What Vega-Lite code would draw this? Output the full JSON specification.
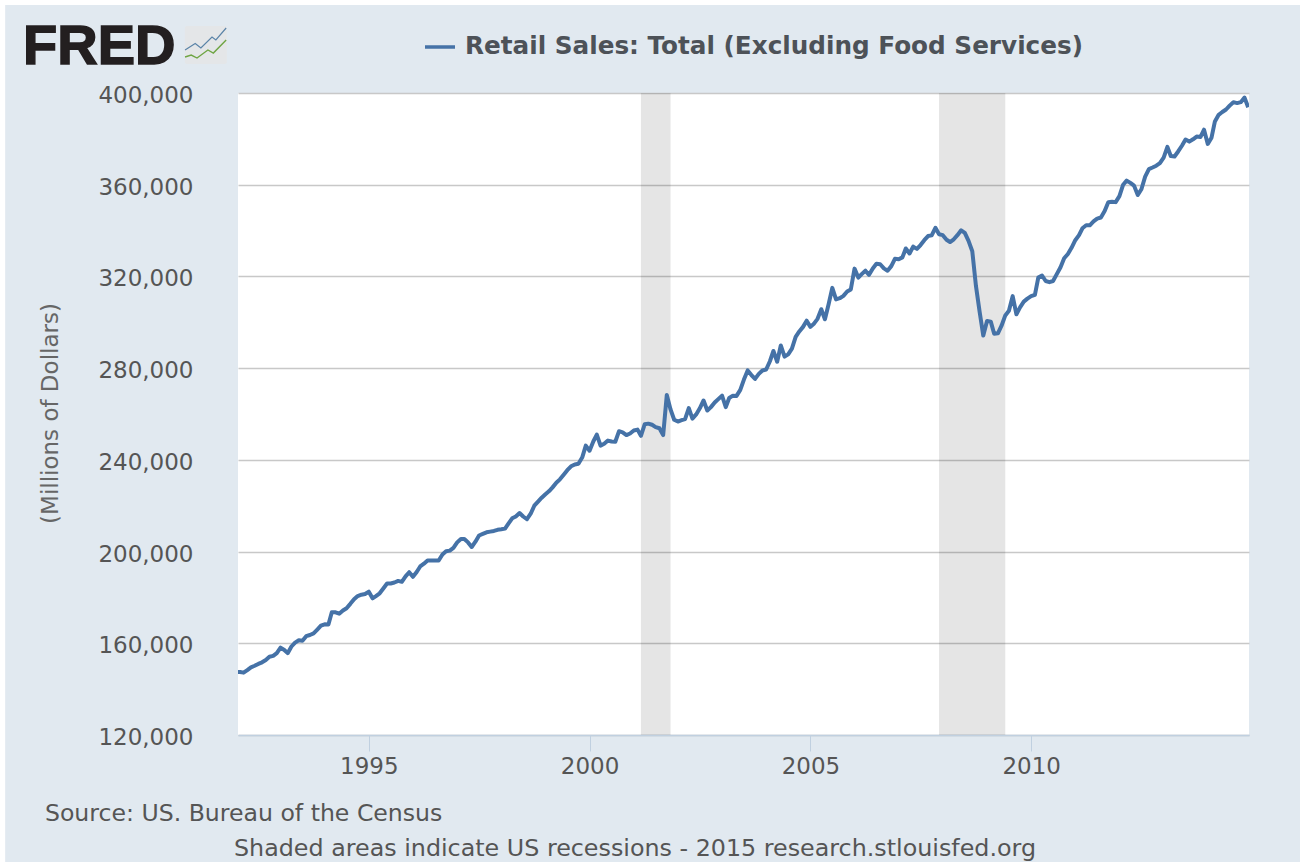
{"$schema":"https://vega.github.io/schema/vega-lite/v6.json","width":1011,"height":642,"autosize":{"type":"none"},"padding":{"left":238,"top":93,"right":51,"bottom":127},"background":"#e1e9f0","config":{"view":{"fill":"#ffffff","stroke":null},"font":"DejaVu Sans"},"resolve":{"axis":{"x":"independent","y":"independent"}},"datasets":{"retail":[{"date":"1992-01-01","value":147500},{"date":"1992-02-01","value":147500},{"date":"1992-03-01","value":147200},{"date":"1992-04-01","value":148300},{"date":"1992-05-01","value":149500},{"date":"1992-06-01","value":150200},{"date":"1992-07-01","value":151000},{"date":"1992-08-01","value":151700},{"date":"1992-09-01","value":152700},{"date":"1992-10-01","value":154100},{"date":"1992-11-01","value":154500},{"date":"1992-12-01","value":155700},{"date":"1993-01-01","value":158100},{"date":"1993-02-01","value":157100},{"date":"1993-03-01","value":155700},{"date":"1993-04-01","value":158600},{"date":"1993-05-01","value":160300},{"date":"1993-06-01","value":161300},{"date":"1993-07-01","value":161100},{"date":"1993-08-01","value":163100},{"date":"1993-09-01","value":163600},{"date":"1993-10-01","value":164300},{"date":"1993-11-01","value":166000},{"date":"1993-12-01","value":167700},{"date":"1994-01-01","value":168300},{"date":"1994-02-01","value":168200},{"date":"1994-03-01","value":173500},{"date":"1994-04-01","value":173500},{"date":"1994-05-01","value":172900},{"date":"1994-06-01","value":174300},{"date":"1994-07-01","value":175300},{"date":"1994-08-01","value":177200},{"date":"1994-09-01","value":179200},{"date":"1994-10-01","value":180600},{"date":"1994-11-01","value":181200},{"date":"1994-12-01","value":181500},{"date":"1995-01-01","value":182500},{"date":"1995-02-01","value":179600},{"date":"1995-03-01","value":180600},{"date":"1995-04-01","value":181800},{"date":"1995-05-01","value":183900},{"date":"1995-06-01","value":186100},{"date":"1995-07-01","value":186100},{"date":"1995-08-01","value":186500},{"date":"1995-09-01","value":187200},{"date":"1995-10-01","value":186800},{"date":"1995-11-01","value":189200},{"date":"1995-12-01","value":191000},{"date":"1996-01-01","value":189000},{"date":"1996-02-01","value":191100},{"date":"1996-03-01","value":193500},{"date":"1996-04-01","value":194700},{"date":"1996-05-01","value":196100},{"date":"1996-06-01","value":196100},{"date":"1996-07-01","value":196100},{"date":"1996-08-01","value":196100},{"date":"1996-09-01","value":198700},{"date":"1996-10-01","value":200100},{"date":"1996-11-01","value":200400},{"date":"1996-12-01","value":201600},{"date":"1997-01-01","value":204000},{"date":"1997-02-01","value":205500},{"date":"1997-03-01","value":205500},{"date":"1997-04-01","value":204000},{"date":"1997-05-01","value":202000},{"date":"1997-06-01","value":204300},{"date":"1997-07-01","value":207000},{"date":"1997-08-01","value":207700},{"date":"1997-09-01","value":208400},{"date":"1997-10-01","value":208700},{"date":"1997-11-01","value":209000},{"date":"1997-12-01","value":209500},{"date":"1998-01-01","value":209700},{"date":"1998-02-01","value":210000},{"date":"1998-03-01","value":212200},{"date":"1998-04-01","value":214500},{"date":"1998-05-01","value":215300},{"date":"1998-06-01","value":216800},{"date":"1998-07-01","value":215300},{"date":"1998-08-01","value":214100},{"date":"1998-09-01","value":216500},{"date":"1998-10-01","value":220000},{"date":"1998-11-01","value":221800},{"date":"1998-12-01","value":223500},{"date":"1999-01-01","value":225000},{"date":"1999-02-01","value":226400},{"date":"1999-03-01","value":228000},{"date":"1999-04-01","value":230000},{"date":"1999-05-01","value":231500},{"date":"1999-06-01","value":233500},{"date":"1999-07-01","value":235500},{"date":"1999-08-01","value":237200},{"date":"1999-09-01","value":238000},{"date":"1999-10-01","value":238300},{"date":"1999-11-01","value":241000},{"date":"1999-12-01","value":246200},{"date":"2000-01-01","value":244000},{"date":"2000-02-01","value":248000},{"date":"2000-03-01","value":251000},{"date":"2000-04-01","value":246200},{"date":"2000-05-01","value":247000},{"date":"2000-06-01","value":248400},{"date":"2000-07-01","value":248000},{"date":"2000-08-01","value":247900},{"date":"2000-09-01","value":252500},{"date":"2000-10-01","value":252000},{"date":"2000-11-01","value":250800},{"date":"2000-12-01","value":251500},{"date":"2001-01-01","value":252800},{"date":"2001-02-01","value":253200},{"date":"2001-03-01","value":250500},{"date":"2001-04-01","value":255500},{"date":"2001-05-01","value":255800},{"date":"2001-06-01","value":255300},{"date":"2001-07-01","value":254300},{"date":"2001-08-01","value":253800},{"date":"2001-09-01","value":250800},{"date":"2001-10-01","value":268300},{"date":"2001-11-01","value":262000},{"date":"2001-12-01","value":257500},{"date":"2002-01-01","value":256700},{"date":"2002-02-01","value":257300},{"date":"2002-03-01","value":257800},{"date":"2002-04-01","value":262600},{"date":"2002-05-01","value":258000},{"date":"2002-06-01","value":259800},{"date":"2002-07-01","value":262500},{"date":"2002-08-01","value":265900},{"date":"2002-09-01","value":261500},{"date":"2002-10-01","value":263000},{"date":"2002-11-01","value":265000},{"date":"2002-12-01","value":266500},{"date":"2003-01-01","value":268000},{"date":"2003-02-01","value":263000},{"date":"2003-03-01","value":267000},{"date":"2003-04-01","value":268000},{"date":"2003-05-01","value":267900},{"date":"2003-06-01","value":270500},{"date":"2003-07-01","value":275000},{"date":"2003-08-01","value":279000},{"date":"2003-09-01","value":277000},{"date":"2003-10-01","value":275300},{"date":"2003-11-01","value":277500},{"date":"2003-12-01","value":279000},{"date":"2004-01-01","value":279400},{"date":"2004-02-01","value":283000},{"date":"2004-03-01","value":287500},{"date":"2004-04-01","value":282800},{"date":"2004-05-01","value":289900},{"date":"2004-06-01","value":285000},{"date":"2004-07-01","value":286000},{"date":"2004-08-01","value":288500},{"date":"2004-09-01","value":293600},{"date":"2004-10-01","value":296000},{"date":"2004-11-01","value":298000},{"date":"2004-12-01","value":300700},{"date":"2005-01-01","value":298000},{"date":"2005-02-01","value":299500},{"date":"2005-03-01","value":301500},{"date":"2005-04-01","value":305700},{"date":"2005-05-01","value":301300},{"date":"2005-06-01","value":308000},{"date":"2005-07-01","value":315000},{"date":"2005-08-01","value":310000},{"date":"2005-09-01","value":310500},{"date":"2005-10-01","value":311500},{"date":"2005-11-01","value":313400},{"date":"2005-12-01","value":314300},{"date":"2006-01-01","value":323400},{"date":"2006-02-01","value":319500},{"date":"2006-03-01","value":321000},{"date":"2006-04-01","value":322500},{"date":"2006-05-01","value":320700},{"date":"2006-06-01","value":323500},{"date":"2006-07-01","value":325500},{"date":"2006-08-01","value":325300},{"date":"2006-09-01","value":323500},{"date":"2006-10-01","value":322500},{"date":"2006-11-01","value":324500},{"date":"2006-12-01","value":327700},{"date":"2007-01-01","value":327500},{"date":"2007-02-01","value":328300},{"date":"2007-03-01","value":332200},{"date":"2007-04-01","value":330000},{"date":"2007-05-01","value":333000},{"date":"2007-06-01","value":332000},{"date":"2007-07-01","value":333700},{"date":"2007-08-01","value":335800},{"date":"2007-09-01","value":337600},{"date":"2007-10-01","value":337900},{"date":"2007-11-01","value":341200},{"date":"2007-12-01","value":338400},{"date":"2008-01-01","value":338000},{"date":"2008-02-01","value":336000},{"date":"2008-03-01","value":335000},{"date":"2008-04-01","value":336200},{"date":"2008-05-01","value":338000},{"date":"2008-06-01","value":340100},{"date":"2008-07-01","value":339000},{"date":"2008-08-01","value":335500},{"date":"2008-09-01","value":331000},{"date":"2008-10-01","value":316000},{"date":"2008-11-01","value":304500},{"date":"2008-12-01","value":294200},{"date":"2009-01-01","value":300600},{"date":"2009-02-01","value":300300},{"date":"2009-03-01","value":295000},{"date":"2009-04-01","value":295200},{"date":"2009-05-01","value":298500},{"date":"2009-06-01","value":303000},{"date":"2009-07-01","value":305000},{"date":"2009-08-01","value":311400},{"date":"2009-09-01","value":303500},{"date":"2009-10-01","value":306500},{"date":"2009-11-01","value":309000},{"date":"2009-12-01","value":310300},{"date":"2010-01-01","value":311400},{"date":"2010-02-01","value":312000},{"date":"2010-03-01","value":319500},{"date":"2010-04-01","value":320400},{"date":"2010-05-01","value":318000},{"date":"2010-06-01","value":317500},{"date":"2010-07-01","value":318000},{"date":"2010-08-01","value":321000},{"date":"2010-09-01","value":324000},{"date":"2010-10-01","value":327900},{"date":"2010-11-01","value":329800},{"date":"2010-12-01","value":332500},{"date":"2011-01-01","value":335800},{"date":"2011-02-01","value":338000},{"date":"2011-03-01","value":341000},{"date":"2011-04-01","value":342300},{"date":"2011-05-01","value":342300},{"date":"2011-06-01","value":344000},{"date":"2011-07-01","value":345200},{"date":"2011-08-01","value":345700},{"date":"2011-09-01","value":348500},{"date":"2011-10-01","value":352400},{"date":"2011-11-01","value":352600},{"date":"2011-12-01","value":352400},{"date":"2012-01-01","value":355000},{"date":"2012-02-01","value":360000},{"date":"2012-03-01","value":361800},{"date":"2012-04-01","value":360800},{"date":"2012-05-01","value":359600},{"date":"2012-06-01","value":355500},{"date":"2012-07-01","value":358000},{"date":"2012-08-01","value":363500},{"date":"2012-09-01","value":366800},{"date":"2012-10-01","value":367500},{"date":"2012-11-01","value":368300},{"date":"2012-12-01","value":369400},{"date":"2013-01-01","value":371800},{"date":"2013-02-01","value":376500},{"date":"2013-03-01","value":372500},{"date":"2013-04-01","value":372300},{"date":"2013-05-01","value":374500},{"date":"2013-06-01","value":377000},{"date":"2013-07-01","value":379700},{"date":"2013-08-01","value":378800},{"date":"2013-09-01","value":379800},{"date":"2013-10-01","value":381000},{"date":"2013-11-01","value":380800},{"date":"2013-12-01","value":384000},{"date":"2014-01-01","value":377800},{"date":"2014-02-01","value":380500},{"date":"2014-03-01","value":387600},{"date":"2014-04-01","value":390500},{"date":"2014-05-01","value":391700},{"date":"2014-06-01","value":392800},{"date":"2014-07-01","value":394500},{"date":"2014-08-01","value":396000},{"date":"2014-09-01","value":395600},{"date":"2014-10-01","value":396000},{"date":"2014-11-01","value":398000},{"date":"2014-12-01","value":393800}],"recessions":[{"start":"2001-03-01","end":"2001-11-01"},{"start":"2007-12-01","end":"2009-06-01"}],"logoBlue":[{"date":"1990-11-03","value":418750},{"date":"1991-01-26","value":421590},{"date":"1991-03-14","value":419620},{"date":"1991-06-14","value":424420},{"date":"1991-07-16","value":423110},{"date":"1991-10-09","value":428350}],"logoGreen":[{"date":"1990-11-03","value":415700},{"date":"1990-12-24","value":416570},{"date":"1991-02-10","value":415260},{"date":"1991-05-11","value":418750},{"date":"1991-06-25","value":417440},{"date":"1991-10-09","value":423110}]},"layer":[{"data":{"values":[{}]},"mark":{"type":"rect","color":"#ffffff"},"encoding":{"x":{"datum":{"year":1985,"month":1,"date":1,"utc":true},"type":"temporal","scale":{"type":"utc"},"axis":null},"x2":{"datum":{"year":2017,"month":1,"date":1,"utc":true}},"y":{"datum":450000,"type":"quantitative","axis":null},"y2":{"datum":438380}}},{"data":{"values":[{}]},"mark":{"type":"rect","color":"#ffffff"},"encoding":{"x":{"datum":{"year":1985,"month":1,"date":1,"utc":true},"type":"temporal","scale":{"type":"utc"},"axis":null},"x2":{"datum":{"year":1986,"month":10,"date":7,"utc":true}},"y":{"datum":450000,"type":"quantitative","axis":null},"y2":{"datum":50000}}},{"data":{"values":[{}]},"mark":{"type":"rect","color":"#e4e6e8","cornerRadius":2},"encoding":{"x":{"datum":{"year":1990,"month":11,"date":1,"utc":true},"type":"temporal","scale":{"type":"utc"},"axis":null},"x2":{"datum":{"year":1991,"month":10,"date":15,"utc":true}},"y":{"datum":429200,"type":"quantitative","axis":null},"y2":{"datum":412650}}},{"data":{"name":"logoBlue"},"mark":{"type":"line","color":"#5b84a8","strokeWidth":1.2},"encoding":{"x":{"field":"date","type":"temporal","scale":{"type":"utc"},"axis":null},"y":{"field":"value","type":"quantitative","axis":null}}},{"data":{"name":"logoGreen"},"mark":{"type":"line","color":"#6fa544","strokeWidth":1.4},"encoding":{"x":{"field":"date","type":"temporal","scale":{"type":"utc"},"axis":null},"y":{"field":"value","type":"quantitative","axis":null}}},{"data":{"values":[{}]},"mark":{"type":"text","text":"FRED","font":"Liberation Sans","fontWeight":"bold","fontSize":56,"align":"left","baseline":"alphabetic","color":"#231f20","stroke":"#231f20","strokeWidth":1.5},"encoding":{"x":{"datum":{"year":1987,"month":3,"date":4,"utc":true},"type":"temporal","scale":{"type":"utc"},"axis":null},"y":{"datum":412650,"type":"quantitative","axis":null}}},{"data":{"values":[{}]},"mark":{"type":"text","text":"Source: US. Bureau of the Census","font":"DejaVu Sans","fontSize":23.6,"align":"left","baseline":"middle","color":"#555555"},"encoding":{"x":{"datum":{"year":1987,"month":9,"date":1,"utc":true},"type":"temporal","scale":{"type":"utc"},"axis":null},"y":{"datum":85550,"type":"quantitative","axis":null}}},{"data":{"name":"recessions","format":{"parse":{"start":"date","end":"date"}}},"mark":{"type":"rect","color":"#000000","opacity":0.1},"encoding":{"x":{"field":"start","type":"temporal","scale":{"type":"utc"},"axis":null},"x2":{"field":"end"},"y":{"datum":400000,"type":"quantitative","axis":null},"y2":{"datum":120000}}},{"data":{"name":"retail"},"mark":{"type":"line","strokeWidth":4,"clip":true,"strokeJoin":"round"},"encoding":{"x":{"field":"date","type":"temporal","scale":{"type":"utc","domain":[{"year":1992,"month":1,"date":15,"utc":true},{"year":2014,"month":12,"date":8,"utc":true}]},"axis":{"values":[{"year":1995,"month":1,"date":1,"utc":true},{"year":2000,"month":1,"date":1,"utc":true},{"year":2005,"month":1,"date":1,"utc":true},{"year":2010,"month":1,"date":1,"utc":true}],"format":"%Y","grid":false,"domainColor":"#c0d0e0","domainWidth":1.5,"tickColor":"#c0d0e0","tickWidth":1,"tickSize":16,"labelFontSize":23,"labelColor":"#555555","labelPadding":4,"labelFont":"DejaVu Sans","title":"Shaded areas indicate US recessions - 2015 research.stlouisfed.org","titleFont":"DejaVu Sans","titleFontWeight":"normal","titleFontSize":23.8,"titleColor":"#555555","titleX":396.5,"titleY":113,"titleAlign":"center","titleBaseline":"middle"}},"y":{"field":"value","type":"quantitative","scale":{"domain":[120000,400000],"nice":false,"zero":false},"axis":{"values":[120000,160000,200000,240000,280000,320000,360000,400000],"format":",.0f","domain":false,"ticks":false,"grid":true,"gridColor":"#c8c8c8","gridWidth":1.5,"labelFontSize":23,"labelColor":"#555555","labelPadding":45,"labelOffset":2.5,"labelFont":"DejaVu Sans","title":"(Millions of Dollars)","titleFont":"DejaVu Sans","titleFontWeight":"normal","titleFontSize":23,"titleColor":"#666666","titleX":-188,"titleY":320,"titleAlign":"center","titleBaseline":"middle"}},"color":{"datum":"Retail Sales: Total (Excluding Food Services)","scale":{"range":["#4572a7"]},"legend":{"orient":"none","legendX":185,"legendY":-63,"title":null,"symbolType":"stroke","symbolStrokeWidth":3.5,"symbolSize":900,"labelFont":"DejaVu Sans","labelFontWeight":"bold","labelFontSize":24.7,"labelColor":"#4d5258","labelLimit":800,"labelOffset":8}}}}]}
